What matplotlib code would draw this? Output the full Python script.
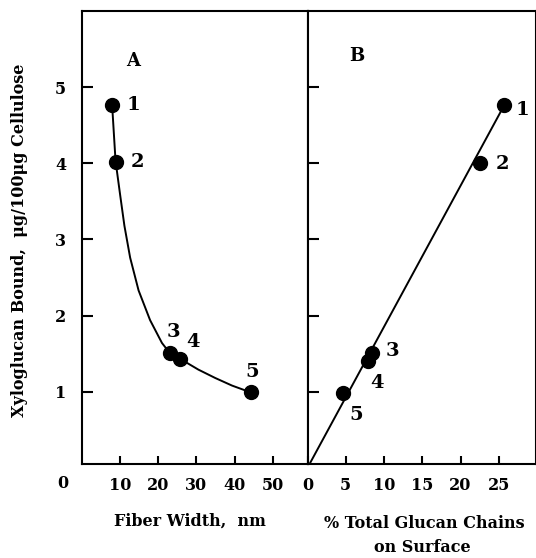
import matplotlib.pyplot as plt

# panel A: fiber width vs xyloglucan bound
width = [8.0, 8.9, 23.2, 25.8, 44.2]
bound_a = [4.76, 4.02, 1.51, 1.43, 0.99]
# smooth curve
curve_x = [8.0, 8.9, 9.24, 10.1, 11.2, 12.7, 14.9, 17.9, 21.0, 22.7, 23.2, 25.8,
           30.5, 34.9, 39.3, 44.2]
curve_y = [4.76, 4.02, 3.90, 3.58, 3.18, 2.76, 2.33, 1.94, 1.64, 1.53, 1.51, 1.43,
           1.29, 1.18, 1.08, 0.99]

# panel B: % glucan chains on surface
surface = [25.7, 22.6, 8.4, 7.95, 4.67]
bound_b = [4.76, 4.01, 1.51, 1.40, 0.98]
line_x = [0, 25.7]
line_y = [0, 4.76]

labels = ['1', '2', '3', '4', '5']
offs_a = [(15, 0), (16, 0), (2, 15), (9, 12), (1, 15)]
offs_b = [(13, -3), (16, -1), (15, 1), (6, -16), (9, -16)]

plt.rcParams['font.family'] = 'DejaVu Serif'
plt.rcParams['font.weight'] = 'bold'

fig = plt.figure(figsize=(5.36, 5.58), dpi=100)
W, H = 536, 558
bot, top = 464, 11
axA = fig.add_axes([81.5 / W, 1 - bot / H, (307.5 - 81.5) / W, (bot - top) / H])
axB = fig.add_axes([307.5 / W, 1 - bot / H, (535.5 - 307.5) / W, (bot - top) / H])

for ax in (axA, axB):
    ax.set_ylim(0.05, 6.0)
    ax.set_yticks([1, 2, 3, 4, 5])
    for s in ax.spines.values():
        s.set_linewidth(1.5)
    ax.tick_params(direction='in', width=1.5, labelsize=11.5)
    ax.tick_params(axis='y', length=8)
    ax.tick_params(axis='x', length=6, pad=9)

axA.set_xlim(0, 59)
axA.set_xticks([10, 20, 30, 40, 50])
axA.set_yticklabels(['1', '2', '3', '4', '5'])
axA.tick_params(axis='y', pad=11)
axA.plot(curve_x, curve_y, color='black', lw=1.4)
axA.plot(width, bound_a, 'o', color='black', ms=10)
for lab, x, y, o in zip(labels, width, bound_a, offs_a):
    axA.annotate(lab, (x, y), xytext=o, textcoords='offset points',
                 ha='center', va='center', fontsize=14, fontweight='bold')
axA.text(13.5, 5.34, 'A', ha='center', va='center', fontsize=13, fontweight='bold')

axB.set_xlim(0, 29.8)
axB.set_xticks([0, 5, 10, 15, 20, 25])
axB.set_yticklabels([])
axB.plot(line_x, line_y, color='black', lw=1.4)
axB.plot(surface, bound_b, 'o', color='black', ms=10)
for lab, x, y, o in zip(labels, surface, bound_b, offs_b):
    axB.annotate(lab, (x, y), xytext=o, textcoords='offset points',
                 ha='center', va='center', fontsize=14, fontweight='bold')
axB.text(6.5, 5.41, 'B', ha='center', va='center', fontsize=13, fontweight='bold')

fig.text(63 / W, 1 - 483 / H, '0', ha='center', va='center', fontsize=11.5, fontweight='bold')
fig.text(20 / W, 1 - 240 / H, 'Xyloglucan Bound,  \u03bcg/100\u03bcg Cellulose',
         rotation=90, ha='center', va='center', fontsize=11.5, fontweight='bold')
fig.text(190 / W, 1 - 521 / H, 'Fiber Width,  nm', ha='center', va='center',
         fontsize=11.5, fontweight='bold')
fig.text(424 / W, 1 - 523 / H, '% Total Glucan Chains', ha='center', va='center',
         fontsize=11.5, fontweight='bold')
fig.text(422 / W, 1 - 548 / H, 'on Surface', ha='center', va='center',
         fontsize=11.5, fontweight='bold')

fig.savefig('out.png', dpi=100)
